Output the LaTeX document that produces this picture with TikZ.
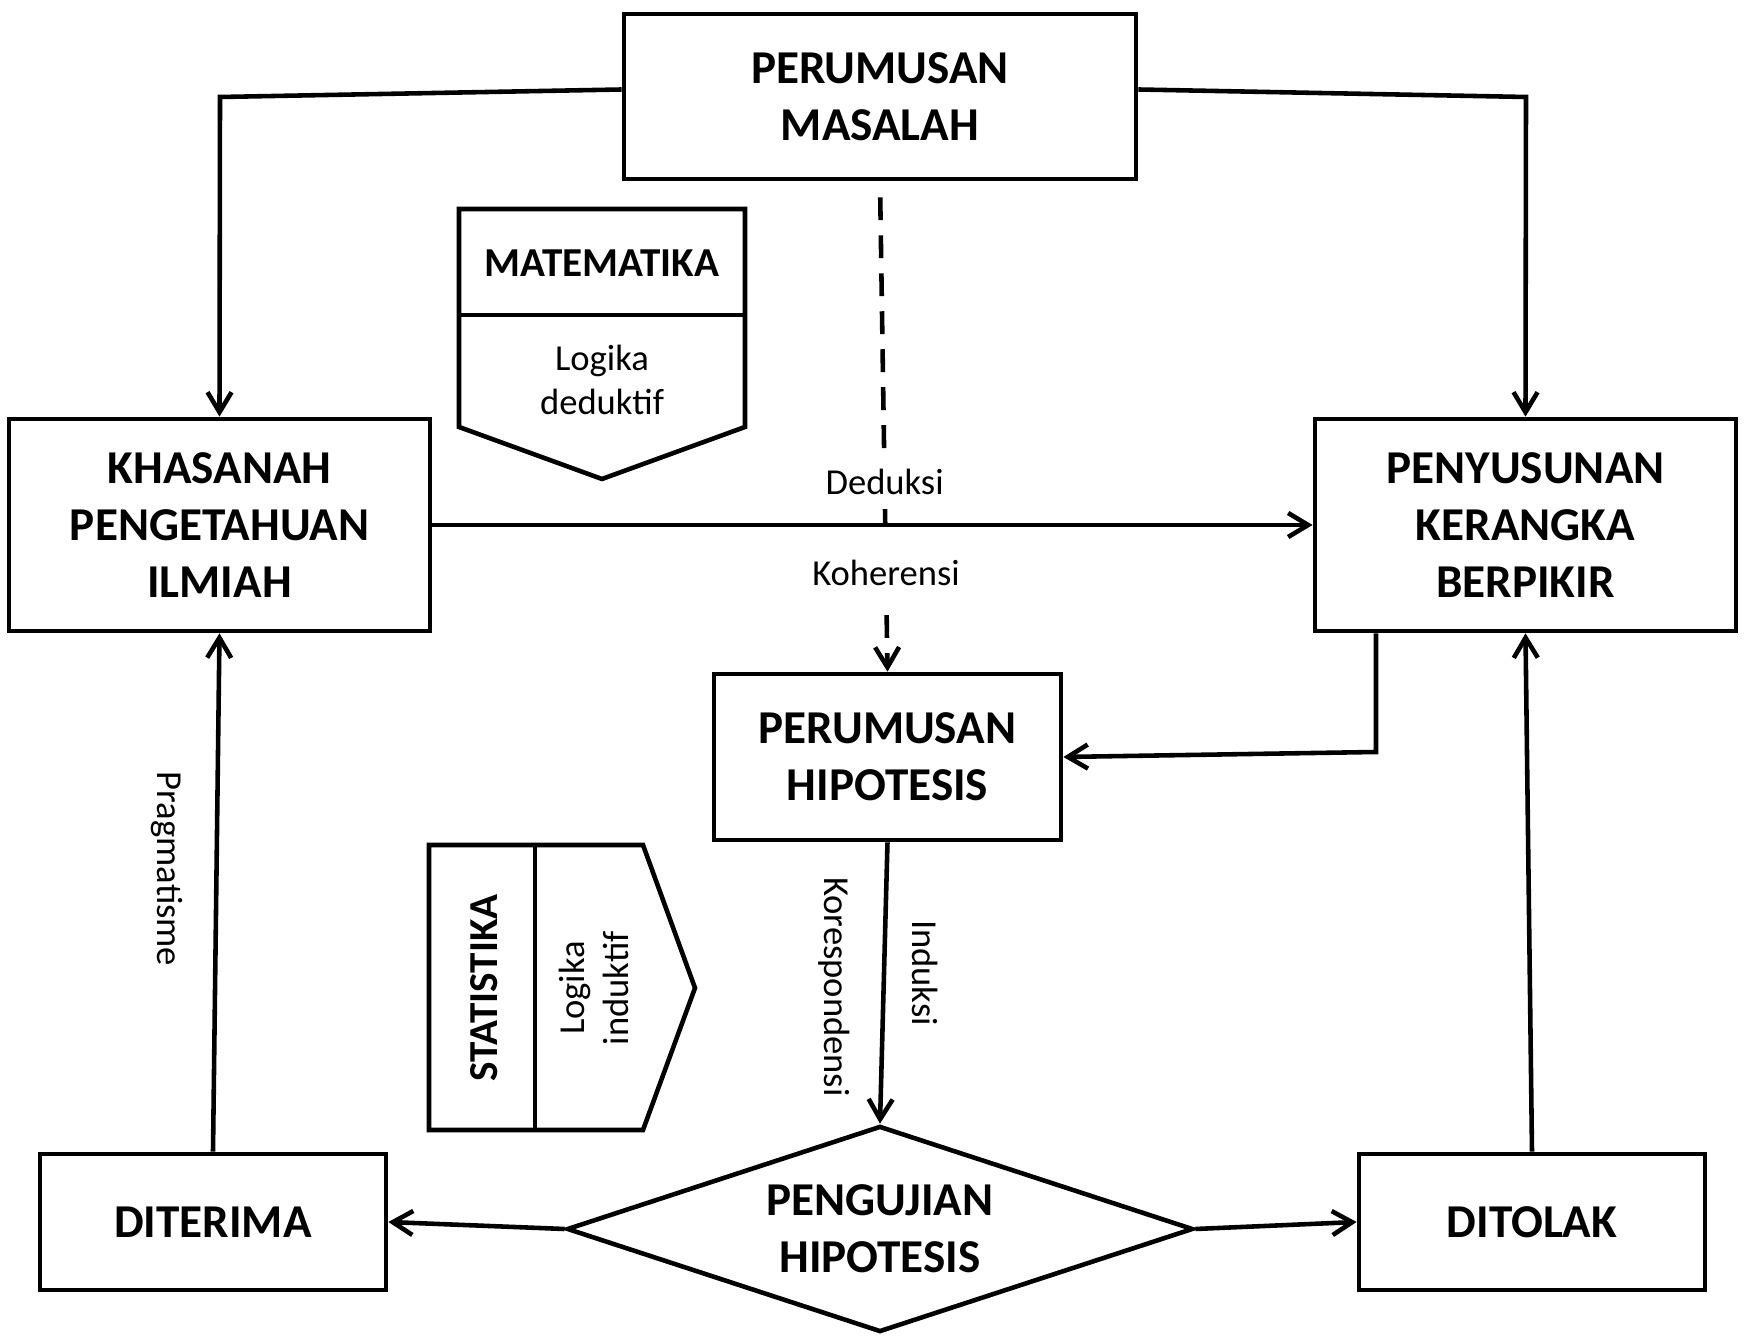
\documentclass[tikz,border=0pt]{standalone}
\usepackage{fontspec}
\setmainfont{Carlito}
\usetikzlibrary{arrows.meta,shapes.geometric}

\tikzset{
  flow/.style={-{Straight Barb[length=2mm,width=2.4mm]},line width=1.3pt},
  stagebox/.style={draw,line width=1.3pt,align=center,inner sep=0pt,font=\bfseries\fontsize{13.4}{16.2}\selectfont},
  tag/.style={font=\fontsize{10.4}{12.3}\selectfont,align=center},
  toolname/.style={font=\bfseries\fontsize{11.7}{14}\selectfont},
}

\begin{document}
\begin{tikzpicture}[x=0.01cm,y=-0.01cm]
		\useasboundingbox (0,0) rectangle (1744,1337);
		
		% stages
		\node[stagebox,minimum width=5.12cm,minimum height=1.65cm] (masalah) at (880,96.5) {PERUMUSAN\\MASALAH};
		\node[stagebox,minimum width=4.21cm,minimum height=2.12cm] (khasanah) at (219.5,525) {KHASANAH\\PENGETAHUAN\\ILMIAH};
		\node[stagebox,minimum width=4.21cm,minimum height=2.12cm] (kerangka) at (1525.5,525) {PENYUSUNAN\\KERANGKA\\BERPIKIR};
		\node[stagebox,minimum width=3.47cm,minimum height=1.66cm] (hipotesis) at (887.5,757) {PERUMUSAN\\HIPOTESIS};
		\node[stagebox,diamond,aspect=3.04,minimum width=6.26cm,minimum height=2.06cm] (pengujian) at (880,1229) {PENGUJIAN\\HIPOTESIS};
		\node[stagebox,minimum width=3.46cm,minimum height=1.36cm] (diterima) at (213,1222) {DITERIMA};
		\node[stagebox,minimum width=3.46cm,minimum height=1.36cm] (ditolak) at (1532,1222) {DITOLAK};
		
		% matematika sign
		\draw[line width=1.3pt] (459,209) -- (745,209) -- (745,427) -- (602,479) -- (459,427) -- cycle;
		\draw[line width=1.3pt] (459,315) -- (745,315);
		\node[toolname] (matematika) at (602,263) {MATEMATIKA};
		\node[tag] (deduktif) at (602,380) {Logika\\deduktif};
		
		% statistika sign
		\draw[line width=1.3pt] (429,845) -- (643,845) -- (695,988) -- (643,1130) -- (429,1130) -- cycle;
		\draw[line width=1.3pt] (535,845) -- (535,1130);
		\node[toolname,rotate=90] (statistika) at (484,988) {STATISTIKA};
		\node[tag,rotate=90] (induktif) at (594,988) {Logika\\induktif};
		
		% top branches
		\coordinate (kiri) at (220,97);
		\coordinate (kanan) at (1526,97);
		\draw[flow] ([yshift=0.07cm]masalah.west) -- (kiri) -- (khasanah.north);
		\draw[flow] ([yshift=0.07cm]masalah.east) -- (kanan) -- (kerangka.north);
		
		% deduksi / koherensi
		\draw[flow,dash pattern=on 6.5pt off 4.3pt,shorten <=0.16cm] (masalah.south) -- (hipotesis.north)
			node[tag,fill=white,inner sep=4pt,pos=0.614] (deduksi) {Deduksi}
			node[tag,fill=white,inner sep=6pt,pos=0.798] (koherensi) {Koherensi};
		\draw[flow] (khasanah) -- (kerangka);
		
		% kerangka to hipotesis
		\coordinate (turun) at (1376,752);
		\draw[flow] (turun |- kerangka.south) -- (turun) -- (hipotesis.east);
		
		% induksi
		\draw[flow] (hipotesis.south) -- (pengujian.north);
		\node[tag,rotate=-90] (korespondensi) at (834,987) {Korespondensi};
		\node[tag,rotate=-90] (induksi) at (925,973) {Induksi};
		
		% results
		\draw[flow] (pengujian.west) -- (diterima.east);
		\draw[flow] (pengujian.east) -- (ditolak.west);
		\draw[flow] (diterima.north) -- (khasanah.south);
		\draw[flow] (ditolak.north) -- (kerangka.south);
		\node[tag,rotate=-90] (pragmatisme) at (167,869) {Pragmatisme};
\end{tikzpicture}
\end{document}
